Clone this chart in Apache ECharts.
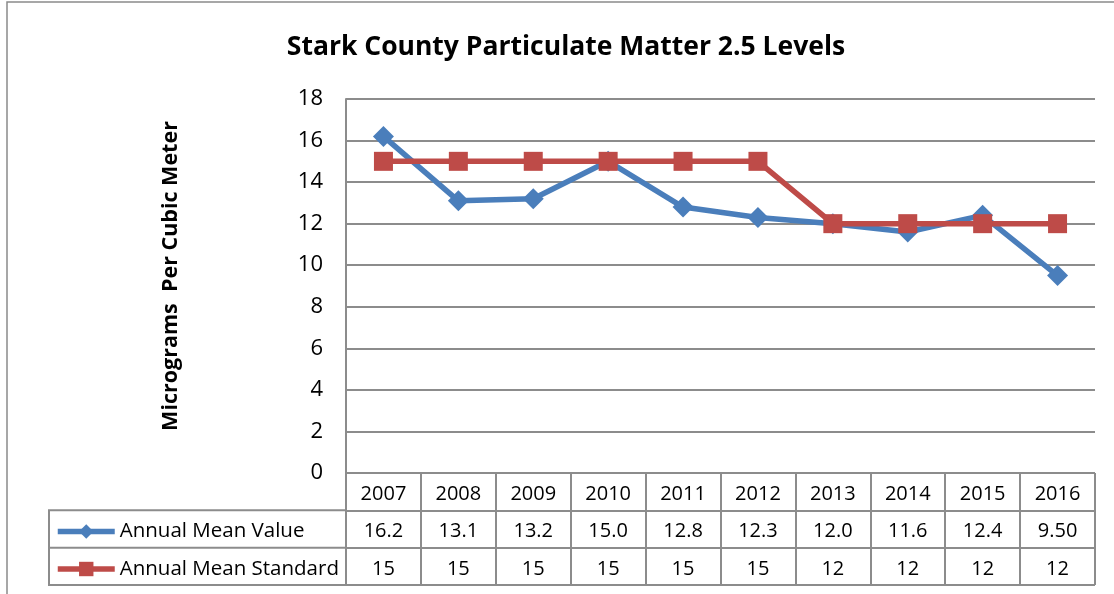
<!DOCTYPE html>
<html><head><meta charset="utf-8">
<script src="https://cdn.jsdelivr.net/npm/echarts@6/dist/echarts.min.js"></script>
<style>html,body{margin:0;padding:0;background:#fff}#c{width:1114px;height:594px}</style>
</head><body><div id="c"></div>
<script>
const years = ['2007','2008','2009','2010','2011','2012','2013','2014','2015','2016'];
const meanValue = [16.2, 13.1, 13.2, 15.0, 12.8, 12.3, 12.0, 11.6, 12.4, 9.50];
const meanStandard = [15, 15, 15, 15, 15, 15, 12, 12, 12, 12];
const yTicks = {min: 0, max: 18, interval: 2};
const seriesNames = ['Annual Mean Value', 'Annual Mean Standard'];
const titleText = 'Stark County Particulate Matter 2.5 Levels';
const yName = 'Micrograms  Per Cubic Meter';

const FONT = '"Open Sans", Lato, sans-serif';
const GRID = '#8c8c8c';
const BLUE = '#4A7EBB', RED = '#BE4B48';
const chart = echarts.init(document.getElementById('c'), null, {renderer: 'canvas'});
chart.setOption({
  animation: false,
  textStyle: {fontFamily: FONT},
  graphic: [
    {type: 'rect', shape: {x: 7, y: 2, width: 1200, height: 700}, style: {fill: 'none', stroke: '#8a8a8a', lineWidth: 1.5}, silent: true},
    {type: 'text', x: 566, y: 47, style: {text: titleText, fontFamily: FONT, fontWeight: 'bold', fontSize: 26.5, fill: '#000', align: 'center', verticalAlign: 'middle'}},
    {type: 'text', x: 171, y: 276, rotation: Math.PI / 2, style: {text: yName, fontFamily: FONT, fontWeight: 'bold', fontSize: 21.5, fill: '#000', align: 'center', verticalAlign: 'middle'}},
    {type: 'rect', shape: {x: 49, y: 510.3, width: 297, height: 74.7}, style: {fill: 'none', stroke: GRID, lineWidth: 2}, silent: true},
    {type: 'line', shape: {x1: 49, y1: 547.7, x2: 346, y2: 547.7}, style: {stroke: GRID, lineWidth: 2}, silent: true}
  ],
  legend: {
    orient: 'vertical', left: 55, top: 521, padding: 0, itemWidth: 57, itemHeight: 18, itemGap: 16.5,
    textStyle: {fontSize: 20.5, color: '#000', fontFamily: FONT},
    data: [
      {name: seriesNames[0], itemStyle: {color: BLUE}, lineStyle: {color: BLUE, width: 5.5}},
      {name: seriesNames[1], itemStyle: {color: RED}, lineStyle: {color: RED, width: 5.5}}
    ]
  },
  grid: [
    {left: 346, right: 19, top: 99, bottom: 121},
    {left: 346, right: 19, top: 473, height: 112}
  ],
  xAxis: [
    {type: 'category', data: years, gridIndex: 0, boundaryGap: true,
     axisLine: {show: false}, axisTick: {show: false},
     axisLabel: {margin: 2.5, fontSize: 20, color: '#000', lineHeight: 37.5, interval: 0,
       formatter: (v, i) => v + '\n' + meanValue[i].toPrecision(3) + '\n' + meanStandard[i]}},
    {type: 'category', data: years, gridIndex: 1, boundaryGap: true,
     axisLine: {show: false}, axisTick: {show: false}, axisLabel: {show: false},
     splitLine: {show: true, interval: 0, lineStyle: {color: GRID, width: 2}}}
  ],
  yAxis: [
    {type: 'value', gridIndex: 0, min: yTicks.min, max: yTicks.max, interval: yTicks.interval,
     axisLine: {show: true, lineStyle: {color: GRID, width: 2}}, axisTick: {show: false},
     axisLabel: {fontSize: 22, color: '#000', margin: 23},
     splitLine: {show: true, lineStyle: {color: GRID, width: 2}}},
    {type: 'value', gridIndex: 1, min: 0, max: 3, interval: 1, inverse: true,
     axisLine: {show: false}, axisTick: {show: false}, axisLabel: {show: false},
     splitLine: {show: true, lineStyle: {color: GRID, width: 2}}}
  ],
  series: [
    {name: seriesNames[0], type: 'line', data: meanValue, xAxisIndex: 0, yAxisIndex: 0,
     symbol: 'diamond', symbolSize: 21, lineStyle: {color: BLUE, width: 5.5},
     itemStyle: {color: BLUE}, z: 3},
    {name: seriesNames[1], type: 'line', data: meanStandard, xAxisIndex: 0, yAxisIndex: 0,
     symbol: 'rect', symbolSize: 19, lineStyle: {color: RED, width: 5.5},
     itemStyle: {color: RED}, z: 4}
  ]
});
</script></body></html>
